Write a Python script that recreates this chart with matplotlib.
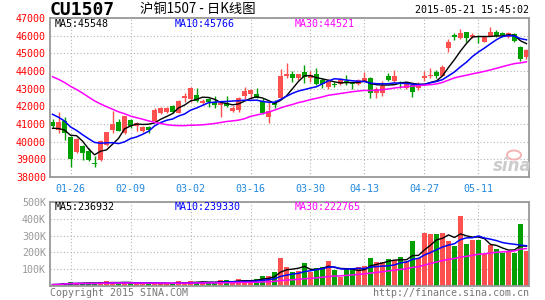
import numpy as np
import pandas as pd
import matplotlib
matplotlib.use('Agg')
from matplotlib import pyplot as plt
from matplotlib.patches import Ellipse

# trading days of CU1507 shown on the chart (SHFE holidays removed)
holidays = ['2015-02-18', '2015-02-19', '2015-02-20', '2015-02-23', '2015-02-24',
            '2015-04-06', '2015-05-01']
days = pd.bdate_range('2015-01-21', '2015-05-21')
days = days[~days.isin(pd.to_datetime(holidays))]
day_labels = [d.strftime('%m-%d') for d in days]

tick_dates = ['01-26', '02-09', '03-02', '03-16', '03-30', '04-13', '04-27', '05-11']

opens = [41130, 40650, 41150, 40280, 39430, 39760, 39470, 38800, 38960, 39830,
         40680, 41100, 40500, 41210, 40890, 40620, 40850, 41150, 41610, 41700,
         42020, 41640, 42490, 42420, 42640, 42210, 42410, 42260, 42080, 42170,
         41740, 41790, 42600, 42680, 42700, 42320, 41380, 42170, 42490, 43720,
         43810, 43580, 43960, 43580, 43810, 43490, 43110, 43270, 43260, 43430,
         43300, 43260, 43400, 43620, 42740, 42750, 43740, 43430, 43400, 43020,
         43180, 43020, 43630, 43720, 43950, 43740, 45300, 46040, 45850, 46190,
         45910, 45830, 45660, 46000, 46230, 46170, 45910, 46090, 45380, 44810]
highs = [41260, 41680, 41400, 40310, 40200, 39820, 39620, 39200, 40100, 40560,
         41730, 41280, 41480, 41300, 41120, 40880, 40890, 41880, 41980, 41960,
         42060, 42380, 42740, 43080, 43060, 42400, 42490, 42580, 42250, 42580,
         42020, 42550, 43110, 42960, 43060, 42490, 42230, 42360, 44120, 44450,
         44000, 43850, 44340, 44000, 44150, 43600, 43550, 43400, 43580, 43770,
         43350, 43560, 43960, 43680, 43100, 43430, 43900, 44060, 43430, 43300,
         43230, 43350, 43980, 44150, 44060, 44340, 45800, 46130, 46360, 46210,
         46130, 46040, 45980, 46470, 46320, 46200, 46230, 46150, 45400, 45220]
lows = [40790, 40500, 40120, 38540, 39380, 38960, 38900, 38540, 38920, 39750,
        40500, 40580, 40420, 40760, 40600, 40560, 40470, 41100, 41580, 41600,
        41600, 41600, 42220, 42220, 42250, 42080, 41980, 41920, 41420, 41980,
        41660, 41700, 42400, 42400, 42450, 41550, 41080, 41900, 42400, 43600,
        43400, 43480, 43300, 43400, 43200, 43050, 42980, 43110, 43200, 43200,
        43000, 43200, 43350, 42490, 42490, 42600, 43450, 43400, 43020, 42980,
        42550, 42950, 43450, 43590, 43620, 43700, 45090, 45780, 45800, 45660,
        45850, 45570, 45620, 45980, 45940, 45950, 45850, 45660, 44580, 44700]
closes = [40910, 41130, 40470, 39030, 40150, 39380, 38960, 38760, 40050, 40520,
          40980, 40610, 41460, 40870, 41080, 40850, 40680, 41810, 41890, 41880,
          41680, 42310, 42590, 43050, 42320, 42320, 42230, 42080, 42170, 42020,
          41920, 42490, 42870, 42920, 42490, 41600, 41750, 42080, 43740, 43810,
          43620, 43810, 43680, 43770, 43250, 43250, 43430, 43230, 43490, 43320,
          43250, 43490, 43600, 42780, 43000, 43150, 43500, 43700, 43250, 43250,
          42800, 43250, 43700, 43750, 43700, 44220, 45650, 45910, 46170, 45850,
          46040, 45790, 45910, 46180, 46000, 46040, 46130, 45720, 44660, 45190]
# volume, in lots
volumes = [8000, 10000, 17000, 23000, 16000, 16000, 16000, 16000, 23000, 27000,
           21000, 16000, 21000, 21000, 12000, 12000, 16000, 21000, 14000, 14000,
           10000, 29000, 23000, 27000, 23000, 21000, 21000, 21000, 33000, 33000,
           21000, 39000, 33000, 31000, 43000, 60000, 60000, 81000, 167000, 114000,
           81000, 87000, 134000, 81000, 109000, 116000, 149000, 97000, 52000, 101000,
           101000, 111000, 120000, 167000, 144000, 144000, 161000, 155000, 173000, 149000,
           265650, 169000, 318000, 312000, 307000, 314000, 270000, 241000, 418000, 250000,
           275000, 274000, 193000, 245000, 221640, 198000, 211000, 198000, 368330, 209330]
# closes of the 29 sessions before 01-21, only used to start the moving averages
prior_closes = [45650, 45750, 45550, 45550, 45450, 45650, 45350, 45250, 45150, 45350,
                44950, 44750, 44850, 43750, 43450, 43550, 44150, 43950, 43850, 42900,
                42800, 42600, 42400, 42100, 41800, 41200, 40900, 40500, 40280]

RED = '#ff5050'
GREEN = '#00a000'
GRID = '#b4b4b4'
FRAME = '#999999'
MONO = 'DejaVu Sans Mono'

n = len(closes)
x = np.arange(n)
vol = np.array(volumes, dtype=float)

allc = pd.Series(prior_closes + closes, dtype=float)
ma5 = allc.rolling(5).mean().values[-n:]
ma10 = allc.rolling(10).mean().values[-n:]
ma30 = allc.rolling(30).mean().values[-n:]
vs = pd.Series(vol)
vma5 = vs.rolling(5, min_periods=1).mean().values
vma10 = vs.rolling(10, min_periods=1).mean().values
vma30 = vs.rolling(30, min_periods=1).mean().values

up = np.array(closes) >= np.array(opens)
colors = np.where(up, RED, GREEN)
ticks = [day_labels.index(d) for d in tick_dates]

W, H = 545, 300
fig = plt.figure(figsize=(W / 100, H / 100), dpi=100)


def frac(px, py):
    return px / W, 1 - py / H


def box(l, t, r, b):
    return [l / W, 1 - b / H, (r - l) / W, (b - t) / H]


ax = fig.add_axes(box(50, 18, 529, 177))
axv = fig.add_axes(box(50, 202, 529, 286))

# candles
for i in range(n):
    o, c = opens[i], closes[i]
    ax.vlines(i, lows[i], highs[i], color=colors[i], lw=1)
    body = max(abs(c - o), 25)
    ax.bar(i, body, bottom=min(o, c), width=0.82, color=colors[i], lw=0)
ax.plot(x, ma5, color='black', lw=1)
ax.plot(x, ma10, color='#0000ff', lw=1.1)
ax.plot(x, ma30, color='#ff00ff', lw=1.1)

axv.bar(x, vol, width=0.82, color=colors, lw=0)
axv.plot(x, vma5, color='black', lw=1)
axv.plot(x, vma10, color='#0000ff', lw=1.1)
axv.plot(x, vma30, color='#ff00ff', lw=1.1)

for a in (ax, axv):
    a.set_xlim(-0.42, n - 0.58)
    a.set_xticks(ticks)
    a.grid(True, color=GRID, lw=0.8, ls=(0, (1, 2)))
    a.set_axisbelow(True)
    for s in a.spines.values():
        s.set_color(FRAME)
        s.set_linewidth(1.3)
    a.tick_params(length=0, pad=3)

ax.set_ylim(38000, 47000)
ax.set_yticks(range(38000, 47001, 1000))
ax.set_yticklabels([str(v) for v in range(38000, 47001, 1000)],
                   color='#ff0000', family=MONO, fontsize=7.2)
ax.set_xticklabels(tick_dates, color='#2288dd', family=MONO, fontsize=7.2)
ax.tick_params(axis='x', pad=5)

axv.set_ylim(0, 500000)
vt = [100000, 200000, 300000, 400000, 500000]
axv.set_yticks(vt)
axv.set_yticklabels(['%dK' % (v // 1000) for v in vt],
                    color='#999999', family=MONO, fontsize=7.2)
axv.set_xticklabels([])

# MA legends
for lab, val, col, px in [('MA5', ma5[-1], 'black', 55), ('MA10', ma10[-1], '#0000ff', 175),
                          ('MA30', ma30[-1], '#ff00ff', 295)]:
    fig.text(*frac(px, 24), '%s:%d' % (lab, round(val)), color=col, family=MONO,
             fontsize=7.2, va='center')
for lab, val, col, px in [('MA5', vma5[-1], 'black', 55), ('MA10', vma10[-1], '#0000ff', 175),
                          ('MA30', vma30[-1], '#ff00ff', 295)]:
    fig.text(*frac(px, 207), '%s:%d' % (lab, round(val)), color=col, family=MONO,
             fontsize=7.2, va='center')

# headers
fig.text(*frac(50, 10), 'CU1507', family=MONO, fontweight='bold', fontsize=13,
         va='center')
fig.text(*frac(140, 9), '沪铜1507 - 日K线图', family=['Noto Sans CJK SC', 'DejaVu Sans'],
         fontsize=9.6, va='center')
fig.text(*frac(529, 10), days[-1].strftime('%Y-%m-%d') + ' 15:45:02', family=MONO,
         fontsize=7.2, va='center', ha='right')
fig.text(*frac(50, 293), 'Copyright 2015 SINA.COM', family=MONO, fontsize=7.2,
         color='#777777', va='center')
fig.text(*frac(529, 293), 'http://finance.sina.com.cn', family=MONO, fontsize=7.2,
         color='#777777', va='center', ha='right')

# sina watermark
fig.patches.append(Ellipse(frac(514, 155), 14 / W, 9 / H, transform=fig.transFigure,
                           facecolor='none', edgecolor='#f4b4b4', lw=1.4))
fig.text(*frac(512, 166), 'sina', color='#cccccc', fontsize=12, fontweight='bold',
         style='italic', ha='center', va='center')

fig.savefig('out.png', dpi=100)
